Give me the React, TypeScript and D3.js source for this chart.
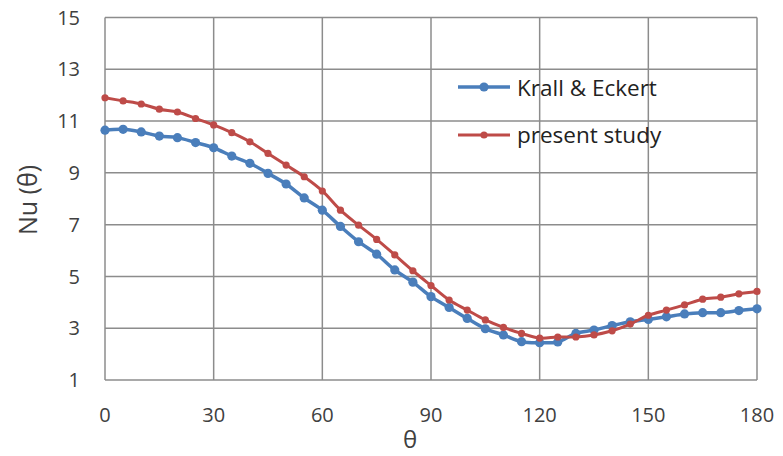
import React from "react";
import * as d3 from "d3";

const theta = [0, 5, 10, 15, 20, 25, 30, 35, 40, 45, 50, 55, 60, 65, 70, 75, 80, 85, 90, 95, 100, 105, 110, 115, 120, 125, 130, 135, 140, 145, 150, 155, 160, 165, 170, 175, 180];
const krallEckert = [10.65, 10.68, 10.58, 10.42, 10.36, 10.17, 9.97, 9.65, 9.37, 8.98, 8.57, 8.03, 7.56, 6.93, 6.34, 5.86, 5.25, 4.78, 4.22, 3.8, 3.38, 2.98, 2.74, 2.48, 2.44, 2.47, 2.8, 2.93, 3.1, 3.25, 3.34, 3.44, 3.55, 3.6, 3.6, 3.68, 3.75];
const presentStudy = [11.9, 11.78, 11.66, 11.46, 11.35, 11.1, 10.85, 10.55, 10.2, 9.75, 9.3, 8.85, 8.3, 7.56, 6.98, 6.43, 5.83, 5.22, 4.65, 4.09, 3.7, 3.32, 3.03, 2.8, 2.62, 2.66, 2.66, 2.74, 2.9, 3.16, 3.5, 3.7, 3.9, 4.12, 4.2, 4.33, 4.42];
const xTicks = [0, 30, 60, 90, 120, 150, 180];
const yTicks = [1, 3, 5, 7, 9, 11, 13, 15];

const W = 783, H = 456;
const FONT = "'Open Sans', 'Noto Sans', sans-serif";
const BLUE = "#4A7EBB";
const RED = "#BE4B48";
const GRID = "#8C8C8C";

export default function App() {
  const x = d3.scaleLinear().domain([0, 180]).range([105, 757]);
  const y = d3.scaleLinear().domain([1, 15]).range([380, 17.5]);
  const line = d3
    .line<number>()
    .x((_, i) => x(theta[i]))
    .y((d) => y(d))
    .curve(d3.curveCatmullRom.alpha(0.5));

  return (
    <svg width={W} height={H} style={{ position: "absolute", left: 0, top: 0, background: "#fff" }}>
      {yTicks.map((t) => (
        <line key={"gy" + t} x1={x(0)} x2={x(180)} y1={y(t)} y2={y(t)} stroke={GRID} strokeWidth={1.5} />
      ))}
      {xTicks.map((t) => (
        <line key={"gx" + t} x1={x(t)} x2={x(t)} y1={y(1)} y2={y(15)} stroke={GRID} strokeWidth={1.5} />
      ))}
      {yTicks.map((t) => (
        <text key={"ty" + t} x={80} y={y(t)} dy="0.36em" textAnchor="end" fontFamily={FONT} fontSize={20} fill="#404040">
          {t}
        </text>
      ))}
      {xTicks.map((t) => (
        <text key={"tx" + t} x={x(t)} y={422} textAnchor="middle" fontFamily={FONT} fontSize={20} fill="#404040">
          {t}
        </text>
      ))}
      <text x={410} y={448} textAnchor="middle" fontFamily={FONT} fontSize={24} fill="#404040">θ</text>
      <text transform="translate(37,200) rotate(-90)" textAnchor="middle" fontFamily={FONT} fontSize={25} fill="#404040">Nu (θ)</text>

      <path d={line(krallEckert) || ""} fill="none" stroke={BLUE} strokeWidth={3.5} />
      {krallEckert.map((v, i) => (
        <circle key={"b" + i} cx={x(theta[i])} cy={y(v)} r={4.6} fill={BLUE} />
      ))}
      <path d={line(presentStudy) || ""} fill="none" stroke={RED} strokeWidth={3} />
      {presentStudy.map((v, i) => (
        <circle key={"r" + i} cx={x(theta[i])} cy={y(v)} r={3.6} fill={RED} />
      ))}

      <line x1={458} x2={510} y1={87} y2={87} stroke={BLUE} strokeWidth={3.5} />
      <circle cx={484} cy={87} r={4.6} fill={BLUE} />
      <text x={517} y={96} fontFamily={FONT} fontSize={22.5} fill="#222">Krall &amp; Eckert</text>
      <line x1={458} x2={510} y1={135} y2={135} stroke={RED} strokeWidth={3} />
      <circle cx={484} cy={135} r={3.6} fill={RED} />
      <text x={517} y={143} fontFamily={FONT} fontSize={22.5} fill="#222">present study</text>
    </svg>
  );
}
